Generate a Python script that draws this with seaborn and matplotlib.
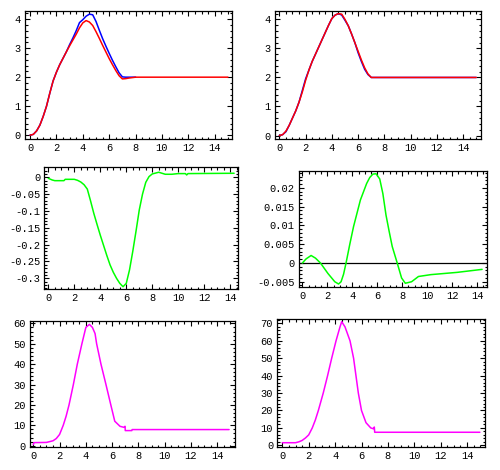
import matplotlib
matplotlib.use("Agg")
import matplotlib.pyplot as plt
from matplotlib.ticker import FixedLocator, FixedFormatter, MultipleLocator
import seaborn as sns

sns.set_style("ticks")
plt.rcParams['font.family'] = ['Liberation Mono', 'DejaVu Sans']

# --- panel 1 (top left): red and blue position curves
t1 = [0, 0.25, 0.5, 0.75, 1, 1.25, 1.5, 1.75, 2, 2.25, 2.5, 2.75, 3, 3.25, 3.5, 3.75,
      4, 4.25, 4.5, 4.75, 5, 5.25, 5.5, 5.75, 6, 6.25, 6.5, 6.75, 7, 7.25, 7.5, 8, 15]
red1 = [0, 0.03, 0.15, 0.35, 0.65, 1.0, 1.45, 1.87, 2.17, 2.43, 2.65, 2.87, 3.08, 3.28, 3.48, 3.7,
        3.87, 3.95, 3.9, 3.78, 3.57, 3.34, 3.1, 2.87, 2.64, 2.43, 2.23, 2.05, 1.94, 1.95, 1.97, 2.0, 2.0]
t1b = t1[:-1]
blue1 = [0, 0.03, 0.15, 0.35, 0.65, 1.0, 1.45, 1.87, 2.17, 2.43, 2.65, 2.87, 3.12, 3.35, 3.6, 3.88,
         3.98, 4.1, 4.17, 4.15, 3.92, 3.62, 3.33, 3.07, 2.82, 2.58, 2.36, 2.15, 2.01, 2.0, 2.0, 2.0]

# --- panel 2 (top right)
t2 = [0, 0.25, 0.5, 0.75, 1, 1.25, 1.5, 1.75, 2, 2.25, 2.5, 2.75, 3, 3.25, 3.5, 3.75,
      4, 4.25, 4.5, 4.75, 5, 5.25, 5.5, 5.75, 6, 6.25, 6.5, 6.75, 7, 15]
red2 = [0, 0.03, 0.15, 0.35, 0.6, 0.85, 1.15, 1.5, 1.9, 2.25, 2.55, 2.8, 3.05, 3.3, 3.55, 3.8,
        4.03, 4.15, 4.2, 4.18, 4.0, 3.78, 3.5, 3.2, 2.9, 2.6, 2.33, 2.12, 2.0, 2.0]
blue2 = [0, 0.03, 0.13, 0.35, 0.6, 0.85, 1.15, 1.55, 1.95, 2.25, 2.55, 2.8, 3.05, 3.3, 3.55, 3.8,
         4.03, 4.15, 4.2, 4.15, 3.97, 3.78, 3.5, 3.2, 2.85, 2.55, 2.28, 2.1, 2.0, 2.0]

# --- panel 3 (middle left): green difference
t3 = [0, 0.3, 0.5, 1.2, 1.3, 2, 2.25, 2.5, 2.75, 3, 3.25, 3.5, 3.75, 4, 4.25, 4.5, 4.75, 5,
      5.25, 5.5, 5.75, 6, 6.25, 6.5, 6.75, 7, 7.25, 7.5, 7.75, 8, 8.5, 9, 9.5, 10, 10.55,
      10.65, 10.75, 14.3]
green3 = [-0.003, -0.008, -0.01, -0.01, -0.006, -0.006, -0.009, -0.014, -0.022, -0.035, -0.07,
          -0.107, -0.14, -0.172, -0.202, -0.232, -0.26, -0.282, -0.3, -0.315, -0.325, -0.315,
          -0.275, -0.22, -0.16, -0.097, -0.05, -0.015, 0.002, 0.01, 0.015, 0.009, 0.009, 0.011,
          0.011, 0.007, 0.011, 0.012]

# --- panel 4 (middle right): green difference
t4 = [0, 0.3, 0.7, 1.05, 1.45, 2.05, 2.6, 2.9, 3.1, 3.3, 3.5, 3.8, 4.1, 4.65, 5.15, 5.4, 5.65,
      5.9, 6.2, 6.45, 6.7, 6.95, 7.2, 7.6, 7.95, 8.25, 8.75, 9.3, 10.3, 12.4, 14.4]
green4 = [0, 0.0011, 0.002, 0.0013, 0, -0.0028, -0.005, -0.0056, -0.005, -0.003, 0, 0.005,
          0.0097, 0.0168, 0.0212, 0.0228, 0.0237, 0.0238, 0.0224, 0.0185, 0.0128, 0.0085,
          0.0044, 0, -0.004, -0.0054, -0.005, -0.0036, -0.0031, -0.0025, -0.0017]

# --- panel 5 (bottom left): magenta
t5 = [0, 0.05, 1, 1.25, 1.5, 1.75, 2, 2.28, 2.5, 2.72, 3.05, 3.35, 3.7, 4, 4.27, 4.5, 4.7,
      4.82, 5.15, 5.53, 5.9, 6.2, 6.6, 6.9, 6.98, 7.0, 7.5, 7.52, 14.9]
mag5 = [0.5, 1.5, 1.6, 2.0, 2.4, 3.5, 5.5, 10, 14.5, 20, 30, 40, 50, 58, 59.5, 58, 55, 50, 40,
        30, 20, 12, 9.5, 9, 9.5, 7.4, 7.4, 7.9, 7.9]

# --- panel 6 (bottom right): magenta
t6 = [0, 1.0, 1.25, 1.5, 1.75, 2, 2.27, 2.5, 2.73, 3.1, 3.43, 3.74, 4.07, 4.37, 4.5, 4.75,
      5.13, 5.4, 5.58, 5.76, 6.0, 6.34, 6.7, 6.9, 6.97, 7.0, 14.97]
mag6 = [1.5, 1.5, 2.0, 2.8, 4.2, 6.0, 10, 14.5, 20, 30, 40, 50, 60, 68, 71, 68, 60, 50, 40, 30,
        20, 13, 10, 9.5, 10.5, 7.5, 7.5]

# tick labels
xticks = [0, 2, 4, 6, 8, 10, 12, 14]
xlabels = ['0', '2', '4', '6', '8', '10', '12', '14']
yticks1 = [0, 1, 2, 3, 4]
ylabels1 = ['0', '1', '2', '3', '4']
yticks3 = [0, -0.05, -0.1, -0.15, -0.2, -0.25, -0.3]
ylabels3 = ['0', '-0.05', '-0.1', '-0.15', '-0.2', '-0.25', '-0.3']
yticks4 = [-0.005, 0, 0.005, 0.01, 0.015, 0.02]
ylabels4 = ['-0.005', '0', '0.005', '0.01', '0.015', '0.02']
yticks5 = [0, 10, 20, 30, 40, 50, 60]
ylabels5 = ['0', '10', '20', '30', '40', '50', '60']
yticks6 = [0, 10, 20, 30, 40, 50, 60, 70]
ylabels6 = ['0', '10', '20', '30', '40', '50', '60', '70']

W, H = 500, 470
fig = plt.figure(figsize=(5, 4.7), dpi=100)


def box(x0, x1, y0, y1):
    return [x0 / W, 1 - y1 / H, (x1 - x0) / W, (y1 - y0) / H]


def style(ax, xlim, ylim, yt, yl, yminor):
    ax.set_xlim(*xlim)
    ax.set_ylim(*ylim)
    ax.xaxis.set_major_locator(FixedLocator(xticks))
    ax.xaxis.set_major_formatter(FixedFormatter(xlabels))
    ax.xaxis.set_minor_locator(MultipleLocator(0.5))
    ax.yaxis.set_major_locator(FixedLocator(yt))
    ax.yaxis.set_major_formatter(FixedFormatter(yl))
    ax.yaxis.set_minor_locator(MultipleLocator(yminor))
    ax.tick_params(which='both', direction='in', top=True, right=True, width=0.8,
                   labelsize=7.5, colors='black', pad=3)
    ax.tick_params(which='major', length=3.5)
    ax.tick_params(which='minor', length=1.8)
    for s in ax.spines.values():
        s.set_visible(True)
        s.set_linewidth(0.9)
        s.set_color('black')
    ax.set_xlabel('')
    ax.set_ylabel('')


lw = 1.1

ax1 = fig.add_axes(box(25, 232.3, 10.7, 139.3))
sns.lineplot(x=t1b, y=blue1, ax=ax1, color='#0000ff', lw=lw, estimator=None)
sns.lineplot(x=t1, y=red1, ax=ax1, color='#ff0000', lw=lw, estimator=None)
style(ax1, (-0.38, 15.33), (-0.14, 4.29), yticks1, ylabels1, 0.2)

ax2 = fig.add_axes(box(275, 481.3, 10.7, 139.3))
sns.lineplot(x=t2, y=blue2, ax=ax2, color='#0000ff', lw=lw, estimator=None)
sns.lineplot(x=t2, y=red2, ax=ax2, color='#ff0000', lw=lw, estimator=None)
style(ax2, (-0.33, 15.38), (-0.13, 4.3), yticks1, ylabels1, 0.2)

ax3 = fig.add_axes(box(44.3, 238, 167.3, 289.3))
sns.lineplot(x=t3, y=green3, ax=ax3, color='#00ff00', lw=lw, estimator=None)
style(ax3, (-0.31, 14.6), (-0.3327, 0.0297), yticks3, ylabels3, 0.01)

ax4 = fig.add_axes(box(299, 486.7, 171, 287))
ax4.axhline(0, color='black', lw=0.9)
sns.lineplot(x=t4, y=green4, ax=ax4, color='#00ff00', lw=lw, estimator=None)
style(ax4, (-0.27, 14.77), (-0.0064, 0.02453), yticks4, ylabels4, 0.001)

ax5 = fig.add_axes(box(30, 235, 320.7, 446.7))
sns.lineplot(x=t5, y=mag5, ax=ax5, color='#ff00ff', lw=lw, estimator=None)
style(ax5, (-0.25, 15.35), (-0.5, 61.3), yticks5, ylabels5, 2)

ax6 = fig.add_axes(box(277.3, 485.3, 318.7, 447))
sns.lineplot(x=t6, y=mag6, ax=ax6, color='#ff00ff', lw=lw, estimator=None)
style(ax6, (-0.38, 15.38), (-0.96, 72.7), yticks6, ylabels6, 2)

fig.savefig('out.png', dpi=100, facecolor='white')
